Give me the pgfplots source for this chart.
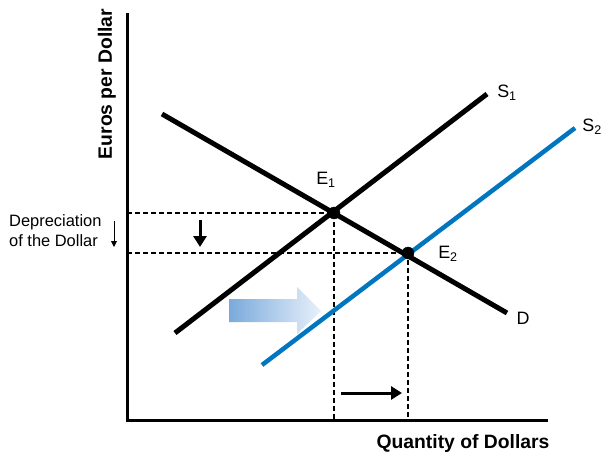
\documentclass[border=0pt]{standalone}
\usepackage{pgfplots}
\pgfplotsset{compat=1.18}
\usepackage{fontspec}
\setmainfont{Liberation Sans}
\usetikzlibrary{arrows.meta}
\definecolor{sblue}{RGB}{0,118,192}
\definecolor{gradL}{RGB}{122,170,220}
\definecolor{gradR}{RGB}{232,240,250}
\newcommand{\lbl}{\fontsize{16.5}{20}\selectfont}
\newcommand{\crv}{\fontsize{18}{21}\selectfont}
\newcommand{\bl}{\fontsize{19.4}{22}\selectfont\bfseries}
\begin{document}
\begin{tikzpicture}
\begin{axis}[
  scale only axis, width=601bp, height=454bp,
  xmin=0, xmax=601, ymin=0, ymax=454, y dir=reverse,
  axis lines=none, ticks=none, clip=false]
% axes
\addplot[black, line width=3bp] coordinates {(127,13) (127,420) (548,420)};
% guides
\addplot[black, line width=1.4bp, dash pattern=on 5bp off 3bp] coordinates {(127,213) (334,213) (334,420)};
\addplot[black, line width=1.4bp, dash pattern=on 5bp off 3bp] coordinates {(127,253) (408,253) (408,420)};
% shift arrow
\addplot[draw=none, left color=gradL, right color=gradR] coordinates
  {(229,299) (297,299) (297,287) (321,311) (297,334) (297,322) (229,322)} -- cycle;
% curves
\addplot[black, line width=5bp] coordinates {(162,114) (507,313)};
\addplot[black, line width=5bp] coordinates {(175,333) (487,94)};
\addplot[sblue, line width=4.5bp] coordinates {(262,365) (575,128)};
% equilibria
\addplot[only marks, mark=*, mark size=6bp, black] coordinates {(334,213) (408,253)};
% small arrows
\addplot[black, line width=3bp, -{Triangle[length=11bp,width=13bp]}] coordinates {(200,220) (200,247)};
\addplot[black, line width=3bp, -{Triangle[length=11bp,width=13bp]}] coordinates {(341,393) (402,393)};
\addplot[black, line width=1bp, -{Triangle[length=6bp,width=6bp]}] coordinates {(114,221) (114,247)};
% labels
\node[anchor=west, align=left, inner sep=0pt, font=\lbl] at (axis cs:9,231) {Depreciation\\of the Dollar};
\node[font=\crv] at (axis cs:326,180) {E\textsubscript{1}};
\node[font=\crv] at (axis cs:448,254) {E\textsubscript{2}};
\node[font=\crv] at (axis cs:507,93) {S\textsubscript{1}};
\node[font=\crv] at (axis cs:592,127) {S\textsubscript{2}};
\node[font=\crv] at (axis cs:523,318) {D};
\node[font=\bl, rotate=90] at (axis cs:107,84) {Euros per Dollar};
\node[font=\bl] at (axis cs:463,443) {Quantity of Dollars};
\end{axis}
\pgfresetboundingbox
\path (current axis.south west) rectangle (current axis.north east);
\end{tikzpicture}
\end{document}
